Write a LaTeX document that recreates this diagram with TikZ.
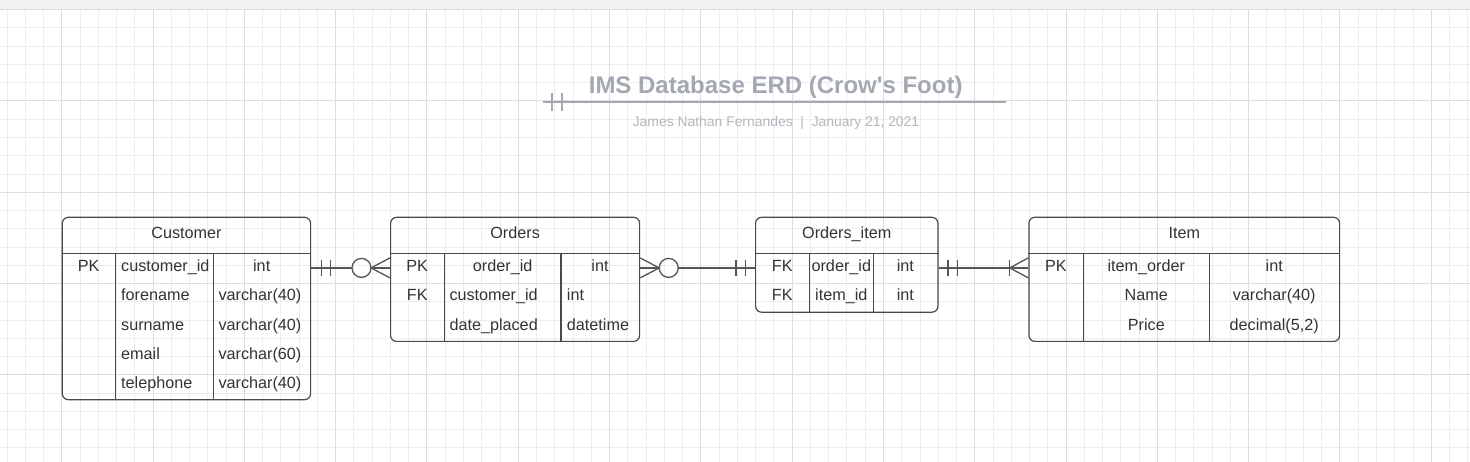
\documentclass[tikz,border=0pt]{standalone}
\usepackage{fontspec}
\setmainfont{Liberation Sans}
\usetikzlibrary{positioning}
\definecolor{ink}{HTML}{333333}
\definecolor{edge}{HTML}{4A4A4A}
\definecolor{wire}{HTML}{555555}
\definecolor{mist}{HTML}{A3A8B1}
\definecolor{haze}{HTML}{B1B5BC}
\definecolor{minorgrid}{HTML}{EDEDED}
\definecolor{majorgrid}{HTML}{DDDDDD}
\definecolor{topbar}{HTML}{F1F2F4}
\tikzset{%
    entity/.style={draw=edge, line width=1.2pt, rounded corners=6pt,
        inner sep=0pt, anchor=north west},
    divider/.style={draw=edge, line width=1.2pt},
    cell/.style={inner sep=0pt, text=ink,
        font=\fontsize{16.2}{19}\selectfont, text height=12pt, text depth=4.2pt},
    link/.style={draw=wire, line width=1.3pt},
    rule/.style={draw=mist, line width=2pt}
}

\begin{document}
\begin{tikzpicture}[x=1pt, y=-1pt]

    \useasboundingbox (0, 0) rectangle (1470, 462);

    % Grid paper
    \foreach \i in {0, ..., 80}{%
        \draw[minorgrid, line width=0.8pt] (6.9 + 18.26*\i, 0) -- ++(0, 462);
    };
    \foreach \i in {0, ..., 24}{%
        \draw[minorgrid, line width=0.8pt] (0, 9.6 + 18.26*\i) -- ++(1470, 0);
    };
    \foreach \i in {0, ..., 15}{%
        \draw[majorgrid, line width=0.9pt] (61.7 + 91.3*\i, 0) -- ++(0, 462);
    };
    \foreach \i in {0, ..., 4}{%
        \draw[majorgrid, line width=0.9pt] (0, 9.6 + 91.3*\i) -- ++(1470, 0);
    };
    \fill[topbar] (0, 0) rectangle (1470, 9);
    \draw[majorgrid] (0, 9.5) -- (1470, 9.5);

    % Title block
    \node[inner sep=0pt, anchor=base, text=mist,
          font=\bfseries\fontsize{24}{28}\selectfont] (title) at (775.7, 93.3)
        {IMS Database ERD (Crow\textquotesingle s Foot)};
    \node[inner sep=0pt, anchor=base, text=haze,
          font=\fontsize{13.9}{16}\selectfont] (byline) at (776, 126.7)
        {James Nathan Fernandes\ \ |\ \ January 21, 2021};

    \coordinate (rulestart) at (542.7, 102);
    \coordinate (ruleend) at (1006, 102);
    \draw[rule] (rulestart) -- (ruleend);
    \foreach \d in {9, 19}{%
        \draw[rule, line width=1.6pt] ([xshift=\d, yshift=9pt] rulestart) -- ++(0, 18);
    };

    % Rows shared by all tables
    \coordinate (hdr) at (0, 235);
    \coordinate (row1) at (0, 267.9);

    % Customer
    \node[entity, minimum width=248.3pt, minimum height=182.4pt] (customer)
        at (61.7, 216.7) {};
    \draw[divider] (customer.west |- 0, 253.3) -- (customer.east |- 0, 253.3);
    \foreach \x in {115.7, 213.3}{%
        \draw[divider] (\x, 253.3) -- (\x, 399.1);
    };
    \node[cell] (customer-head) at (customer.north |- hdr) {Customer};
    \node[cell] (c-key1) at (88.7, 267.9) {PK};
    \node[cell, anchor=west] (c-name1) at (121, 267.9) {customer\_id};
    \node[cell] (c-type1) at (261.7, 267.9) {int};
    \node[cell, anchor=west] (c-name2) at (121, 297.1) {forename};
    \node[cell, anchor=west] (c-type2) at (218.3, 297.1) {varchar(40)};
    \node[cell, anchor=west] (c-name3) at (121, 326.2) {surname};
    \node[cell, anchor=west] (c-type3) at (218.3, 326.2) {varchar(40)};
    \node[cell, anchor=west] (c-name4) at (121, 355.4) {email};
    \node[cell, anchor=west] (c-type4) at (218.3, 355.4) {varchar(60)};
    \node[cell, anchor=west] (c-name5) at (121, 384.6) {telephone};
    \node[cell, anchor=west] (c-type5) at (218.3, 384.6) {varchar(40)};

    % Orders
    \node[entity, minimum width=249pt, minimum height=124.1pt] (orders)
        at (390, 216.7) {};
    \draw[divider] (orders.west |- 0, 253.3) -- (orders.east |- 0, 253.3);
    \foreach \x in {444.3, 561}{%
        \draw[divider] (\x, 253.3) -- (\x, 340.8);
    };
    \node[cell] (orders-head) at (orders.north |- hdr) {Orders};
    \node[cell] (o-key1) at (417.2, 267.9) {PK};
    \node[cell] (o-name1) at (502.7, 267.9) {order\_id};
    \node[cell] (o-type1) at (600, 267.9) {int};
    \node[cell] (o-key2) at (417.2, 297.1) {FK};
    \node[cell, anchor=west] (o-name2) at (449.3, 297.1) {customer\_id};
    \node[cell, anchor=west] (o-type2) at (566.7, 297.1) {int};
    \node[cell, anchor=west] (o-name3) at (449.3, 326.2) {date\_placed};
    \node[cell, anchor=west] (o-type3) at (566.7, 326.2) {datetime};

    % Orders_item
    \node[entity, minimum width=182.3pt, minimum height=94.9pt] (ordersitem)
        at (755, 216.7) {};
    \draw[divider] (ordersitem.west |- 0, 253.3) -- (ordersitem.east |- 0, 253.3);
    \foreach \x in {809.3, 873.3}{%
        \draw[divider] (\x, 253.3) -- (\x, 311.6);
    };
    \node[cell] (ordersitem-head) at (ordersitem.north |- hdr) {Orders\_item};
    \node[cell] (oi-key1) at (782.2, 267.9) {FK};
    \node[cell] (oi-name1) at (841.3, 267.9) {order\_id};
    \node[cell] (oi-type1) at (905.3, 267.9) {int};
    \node[cell] (oi-key2) at (782.2, 297.1) {FK};
    \node[cell] (oi-name2) at (841.3, 297.1) {item\_id};
    \node[cell] (oi-type2) at (905.3, 297.1) {int};

    % Item
    \node[entity, minimum width=310.7pt, minimum height=124.1pt] (item)
        at (1028.3, 216.7) {};
    \draw[divider] (item.west |- 0, 253.3) -- (item.east |- 0, 253.3);
    \foreach \x in {1083.3, 1209.3}{%
        \draw[divider] (\x, 253.3) -- (\x, 340.8);
    };
    \node[cell] (item-head) at (item.north |- hdr) {Item};
    \node[cell] (i-key1) at (1055.8, 267.9) {PK};
    \node[cell] (i-name1) at (1146.3, 267.9) {item\_order};
    \node[cell] (i-type1) at (1274.2, 267.9) {int};
    \node[cell] (i-name2) at (1146.3, 297.1) {Name};
    \node[cell] (i-type2) at (1274.2, 297.1) {varchar(40)};
    \node[cell] (i-name3) at (1146.3, 326.2) {Price};
    \node[cell] (i-type3) at (1274.2, 326.2) {decimal(5,2)};


    % Customer to Orders: one and only one / zero or many
    \draw[link] (customer.east |- row1) -- ([xshift=-38] orders.west |- row1);
    \foreach \d in {10.5, 19.5}{%
        \draw[link] ([xshift=\d, yshift=8pt] customer.east |- row1) -- ++(0, 16);
    };
    \draw[link] ([xshift=-28.5] orders.west |- row1) circle[radius=9.5pt];
    \draw[link] ([yshift=10pt] orders.west |- row1)
        -- ([xshift=-19] orders.west |- row1)
        -- ([yshift=-10pt] orders.west |- row1);
    \draw[link] ([xshift=-19] orders.west |- row1) -- (orders.west |- row1);

    % Orders to Orders_item: zero or many / one and only one
    \draw[link] ([yshift=10pt] orders.east |- row1)
        -- ([xshift=19] orders.east |- row1)
        -- ([yshift=-10pt] orders.east |- row1);
    \draw[link] (orders.east |- row1) -- ([xshift=19] orders.east |- row1);
    \draw[link] ([xshift=28.5] orders.east |- row1) circle[radius=9.5pt];
    \draw[link] ([xshift=38] orders.east |- row1) -- (ordersitem.west |- row1);
    \foreach \d in {-19, -9.5}{%
        \draw[link] ([xshift=\d, yshift=8pt] ordersitem.west |- row1) -- ++(0, 16);
    };

    % Orders_item to Item: one and only one / one or many
    \draw[link] (ordersitem.east |- row1) -- (item.west |- row1);
    \foreach \d in {9.5, 19}{%
        \draw[link] ([xshift=\d, yshift=8pt] ordersitem.east |- row1) -- ++(0, 16);
    };
    \draw[link] ([xshift=-18.5, yshift=8pt] item.west |- row1) -- ++(0, 16);
    \draw[link] ([yshift=10pt] item.west |- row1)
        -- ([xshift=-18.5] item.west |- row1)
        -- ([yshift=-10pt] item.west |- row1);

\end{tikzpicture}
\end{document}
